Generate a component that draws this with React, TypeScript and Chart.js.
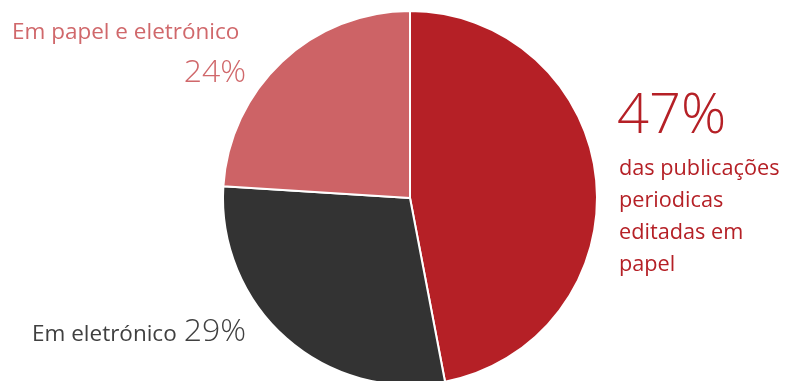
import React, { useEffect, useRef } from "react";
import { Chart, registerables } from "chart.js";

Chart.register(...registerables);

// ---- data ----
const categories = ["Em papel", "Em eletrónico", "Em papel e eletrónico"];
const values = [47, 29, 24];
const mainNoteLines = ["das publicações", "periodicas", "editadas em", "papel"];

// ---- styles ----
const sliceColors = ["#B52026", "#333333", "#CD6366"];
const FONT = "'Open Sans', 'Noto Sans', sans-serif";

const W = 786;
const H = 400;

const labelsPlugin = {
  id: "sliceLabels",
  afterDraw(chart: any) {
    const ctx = chart.ctx as CanvasRenderingContext2D;
    ctx.save();
    ctx.textBaseline = "alphabetic";

    // Right: main slice (Em papel)
    ctx.fillStyle = "#B52026";
    ctx.textAlign = "left";
    ctx.font = `300 56px ${FONT}`;
    ctx.fillText(`${values[0]}%`, 617, 133);
    ctx.font = `400 21.7px ${FONT}`;
    mainNoteLines.forEach((line, i) => {
      ctx.fillText(line, 619, 175 + i * 32);
    });

    // Top-left: Em papel e eletrónico
    ctx.fillStyle = "#D0686B";
    ctx.textAlign = "left";
    ctx.font = `400 22.5px ${FONT}`;
    ctx.fillText(categories[2], 12, 39);
    ctx.textAlign = "right";
    ctx.font = `300 32px ${FONT}`;
    ctx.fillText(`${values[2]}%`, 246, 82);

    // Bottom-left: Em eletrónico
    ctx.fillStyle = "#404040";
    ctx.textAlign = "right";
    ctx.font = `300 32px ${FONT}`;
    ctx.fillText(`${values[1]}%`, 246, 341);
    ctx.textAlign = "left";
    ctx.font = `400 22.5px ${FONT}`;
    ctx.fillText(categories[1], 32, 341);

    ctx.restore();
  },
};

export default function App() {
  const ref = useRef<HTMLCanvasElement>(null);

  useEffect(() => {
    if (!ref.current) return;
    const chart = new Chart(ref.current, {
      type: "pie",
      data: {
        labels: categories,
        datasets: [
          {
            data: values,
            backgroundColor: sliceColors,
            borderColor: "#ffffff",
            borderWidth: 2,
          },
        ],
      },
      options: {
        responsive: false,
        animation: false,
        events: [],
        layout: { padding: { left: 222, top: 10, right: 188, bottom: H - 10 - 376 } },
        plugins: {
          legend: { display: false },
          tooltip: { enabled: false },
        },
      },
      plugins: [labelsPlugin],
    });
    return () => chart.destroy();
  }, []);

  return (
    <div
      style={{
        position: "fixed",
        top: 0,
        left: 0,
        width: W,
        height: 381,
        overflow: "hidden",
        background: "#ffffff",
      }}
    >
      <canvas ref={ref} width={W} height={H} style={{ display: "block", width: W, height: H }} />
    </div>
  );
}
